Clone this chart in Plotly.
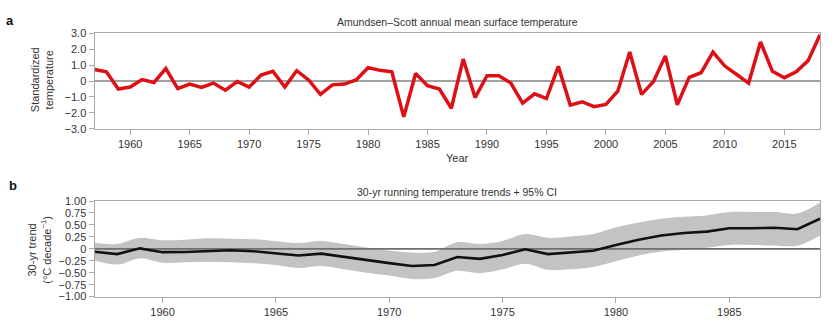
import plotly.graph_objects as go

# ---- Panel a: Amundsen–Scott annual mean surface temperature (standardized)
years_a = list(range(1957, 2019))
temp_std = [0.72, 0.58, -0.50, -0.38, 0.09, -0.09, 0.78, -0.48, -0.19, -0.40,
            -0.13, -0.58, -0.03, -0.38, 0.37, 0.61, -0.38, 0.65, 0.07, -0.84,
            -0.24, -0.19, 0.07, 0.84, 0.67, 0.58, -2.25, 0.47, -0.30, -0.50,
            -1.71, 1.38, -1.04, 0.33, 0.33, -0.13, -1.39, -0.80, -1.10, 0.92,
            -1.51, -1.30, -1.61, -1.47, -0.64, 1.82, -0.84, -0.03, 1.58, -1.49,
            0.23, 0.52, 1.82, 0.94, 0.41, -0.13, 2.45, 0.61, 0.21, 0.58,
            1.28, 2.90]

# ---- Panel b: 30-yr running trends + 95% CI
years_b = list(range(1957, 1990))
trend = [-0.06, -0.11, 0.01, -0.07, -0.065, -0.04, -0.03, -0.05, -0.09, -0.14,
         -0.10, -0.17, -0.245, -0.30, -0.36, -0.34, -0.17, -0.21, -0.13, -0.01,
         -0.11, -0.08, -0.04, 0.08, 0.19, 0.28, 0.33, 0.36, 0.43, 0.43,
         0.44, 0.41, 0.63]
ci_upper = [0.125, 0.10, 0.23, 0.18, 0.19, 0.22, 0.21, 0.20, 0.16, 0.12,
            0.165, 0.10, 0.03, -0.035, -0.075, -0.06, 0.14, 0.10, 0.165, 0.31,
            0.23, 0.26, 0.31, 0.45, 0.55, 0.63, 0.67, 0.70, 0.77, 0.77,
            0.77, 0.74, 0.97]
ci_lower = [-0.245, -0.33, -0.20, -0.29, -0.28, -0.27, -0.28, -0.30, -0.34, -0.40,
            -0.36, -0.43, -0.50, -0.56, -0.63, -0.61, -0.46, -0.51, -0.43, -0.31,
            -0.44, -0.43, -0.38, -0.26, -0.14, -0.057, -0.02, 0.024, 0.08, 0.08,
            0.07, 0.065, 0.28]

yt_a = [3, 2, 1, 0, -1, -2, -3]
yt_a_text = ["3.0", "2.0", "1.0", "0", "\u22121.0", "\u22122.0", "\u22123.0"]
yt_b = [1, 0.75, 0.5, 0.25, 0, -0.25, -0.5, -0.75, -1]
yt_b_text = ["1.00", "0.75", "0.50", "0.25", "0", "\u22120.25", "\u22120.50", "\u22120.75", "\u22121.00"]

W, H = 834, 326
FONT = "Liberation Sans, Arial, sans-serif"
TXT = "#333333"
FRAME = "#a8a8a8"

fig = go.Figure()

# panel a
fig.add_trace(go.Scatter(x=years_a, y=temp_std, mode="lines",
                         line=dict(color="#dd1016", width=3.5),
                         xaxis="x", yaxis="y", showlegend=False))

# panel b band
fig.add_trace(go.Scatter(x=years_b, y=ci_upper, mode="lines",
                         line=dict(color="rgba(0,0,0,0)", width=0, shape="spline"),
                         xaxis="x2", yaxis="y2", showlegend=False, hoverinfo="skip"))
fig.add_trace(go.Scatter(x=years_b, y=ci_lower, mode="lines",
                         line=dict(color="rgba(0,0,0,0)", width=0, shape="spline"),
                         fill="tonexty", fillcolor="#c3c3c3",
                         xaxis="x2", yaxis="y2", showlegend=False, hoverinfo="skip"))
# zero reference line above band
fig.add_trace(go.Scatter(x=[years_b[0], years_b[-1]], y=[0, 0], mode="lines",
                         line=dict(color="#6e6e6e", width=1.8),
                         xaxis="x2", yaxis="y2", showlegend=False, hoverinfo="skip"))
fig.add_trace(go.Scatter(x=years_b, y=trend, mode="lines",
                         line=dict(color="#111111", width=2.6),
                         xaxis="x2", yaxis="y2", showlegend=False))

# zero line panel a
fig.add_shape(type="line", xref="x domain", yref="y", x0=0, x1=1, y0=0, y1=0,
              line=dict(color="#444444", width=1.1), layer="below")

def px_x(p):
    return p / W

def px_y(p):
    return 1 - p / H

axis_common = dict(showgrid=False, zeroline=False, showline=True, linecolor=FRAME,
                   linewidth=1, mirror=True, ticks="outside", ticklen=5,
                   tickcolor=FRAME, tickfont=dict(family=FONT, size=11, color=TXT))

fig.update_layout(
    width=W, height=H, margin=dict(l=0, r=0, t=0, b=0),
    paper_bgcolor="white", plot_bgcolor="white",
    font=dict(family=FONT, color=TXT),
    xaxis=dict(domain=[px_x(94.5), px_x(820)], range=[1957, 2018], anchor="y",
               tickvals=list(range(1960, 2019, 5)), **axis_common),
    yaxis=dict(domain=[px_y(127.5), px_y(28.3)], range=[-3, 3], anchor="x",
               tickvals=yt_a, ticktext=yt_a_text, **axis_common),
    xaxis2=dict(domain=[px_x(94.5), px_x(820)], range=[1957, 1989], anchor="y2",
                tickvals=list(range(1960, 1990, 5)), **axis_common),
    yaxis2=dict(domain=[px_y(301.7), px_y(202.5)], range=[-1, 1], anchor="x2",
                tickvals=yt_b, ticktext=yt_b_text, **axis_common),
)

ann = [
    dict(text="<b>a</b>", x=px_x(4), y=px_y(15), xanchor="left", yanchor="middle",
         font=dict(size=13, color="#111")),
    dict(text="<b>b</b>", x=px_x(7), y=px_y(186), xanchor="left", yanchor="middle",
         font=dict(size=13, color="#111")),
    dict(text="Amundsen\u2013Scott annual mean surface temperature", x=px_x(457), y=px_y(17),
         xanchor="center", yanchor="middle", font=dict(size=10.5, color=TXT)),
    dict(text="30-yr running temperature trends + 95% CI", x=px_x(457), y=px_y(193),
         xanchor="center", yanchor="middle", font=dict(size=10.5, color=TXT)),
    dict(text="Year", x=px_x(457), y=px_y(158), xanchor="center", yanchor="middle",
         font=dict(size=11, color=TXT)),
    dict(text="Standardized<br>temperature", x=px_x(42), y=px_y(77), textangle=-90,
         xanchor="center", yanchor="middle", font=dict(size=11, color=TXT)),
    dict(text="30-yr trend<br>(\u00b0C decade<sup>\u22121</sup>)", x=px_x(39), y=px_y(253),
         textangle=-90, xanchor="center", yanchor="middle", font=dict(size=11, color=TXT)),
]
for a in ann:
    a.update(xref="paper", yref="paper", showarrow=False)
    a["font"]["family"] = FONT
fig.update_layout(annotations=ann)

fig.write_html("out.html")
